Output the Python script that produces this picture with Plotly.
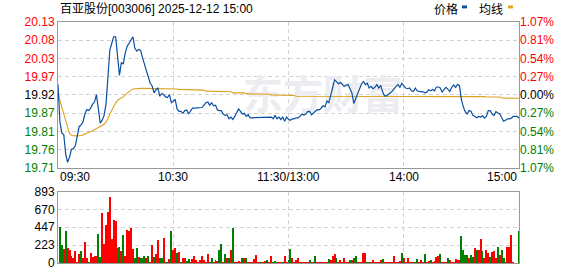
import plotly.graph_objects as go

# ---------------- data ----------------
title_text = "百亚股份[003006] 2025-12-12 15:00"
legend_names = ["价格", "均线"]
pre_close = 19.92
max_pct = 1.07
price_labels = ["19.71", "19.76", "19.81", "19.87", "19.92", "19.97", "20.03", "20.08", "20.13"]
pct_labels = ["1.07%", "0.81%", "0.54%", "0.27%", "0.00%", "0.27%", "0.54%", "0.81%", "1.07%"]
vol_ticks = [0, 223, 447, 670, 893]
time_labels = ["09:30", "10:30", "11:30/13:00", "14:00", "15:00"]
time_label_minutes = [0, 60, 120, 180, 240]
watermark = "东方财富"

price = [
    19.951, 19.841, 19.808, 19.804, 19.747, 19.723, 19.738, 19.761, 19.763, 19.771,
    19.799, 19.827, 19.832, 19.841, 19.864, 19.877, 19.874, 19.881, 19.893, 19.899,
    19.921, 19.879, 19.837, 19.846, 19.860, 19.893, 19.968, 20.052, 20.071, 20.090,
    20.090, 20.029, 19.977, 20.015, 20.010, 20.043, 20.062, 20.071, 20.081, 20.090,
    20.057, 20.048, 20.053, 20.050, 20.029, 20.006, 19.991, 19.973, 19.954, 19.946,
    19.926, 19.935, 19.940, 19.916, 19.924, 19.921, 19.914, 19.912, 19.921, 19.897,
    19.902, 19.907, 19.879, 19.872, 19.872, 19.866, 19.874, 19.876, 19.864, 19.871,
    19.881, 19.881, 19.881, 19.881, 19.881, 19.883, 19.890, 19.897, 19.899, 19.890,
    19.897, 19.888, 19.890, 19.876, 19.874, 19.874, 19.864, 19.860, 19.862, 19.850,
    19.855, 19.848, 19.857, 19.869, 19.879, 19.872, 19.864, 19.866, 19.857, 19.862,
    19.853, 19.853, 19.853, 19.853, 19.853, 19.853, 19.853, 19.853, 19.853, 19.853,
    19.855, 19.855, 19.850, 19.860, 19.850, 19.855, 19.848, 19.855, 19.843, 19.855,
    19.849, 19.846, 19.850, 19.850, 19.853, 19.853, 19.857, 19.864, 19.861, 19.864,
    19.871, 19.872, 19.862, 19.866, 19.872, 19.877, 19.876, 19.881, 19.888, 19.885,
    19.902, 19.897, 19.919, 19.945, 19.964, 19.959, 19.952, 19.957, 19.952, 19.945,
    19.948, 19.950, 19.938, 19.926, 19.895, 19.910, 19.923, 19.935, 19.952, 19.959,
    19.950, 19.954, 19.940, 19.945, 19.938, 19.942, 19.950, 19.940, 19.948, 19.929,
    19.917, 19.917, 19.923, 19.926, 19.931, 19.940, 19.945, 19.950, 19.942, 19.954,
    19.945, 19.940, 19.938, 19.940, 19.932, 19.930, 19.940, 19.932, 19.930, 19.930,
    19.929, 19.926, 19.928, 19.935, 19.932, 19.936, 19.932, 19.943, 19.943, 19.940,
    19.928, 19.936, 19.942, 19.936, 19.930, 19.942, 19.949, 19.942, 19.951, 19.947,
    19.907, 19.885, 19.871, 19.864, 19.874, 19.872, 19.860, 19.857, 19.853, 19.857,
    19.855, 19.859, 19.852, 19.857, 19.874, 19.874, 19.864, 19.860, 19.871, 19.867,
    19.864, 19.853, 19.843, 19.846, 19.850, 19.850, 19.852, 19.857, 19.857, 19.857,
    19.852,
]

avg_price = [
    19.922, 19.902, 19.883, 19.862, 19.840, 19.820, 19.807, 19.802, 19.800, 19.800,
    19.800, 19.800, 19.801, 19.803, 19.806, 19.808, 19.810, 19.813, 19.815, 19.818,
    19.822, 19.826, 19.828, 19.830, 19.834, 19.841, 19.850, 19.864, 19.877, 19.886,
    19.896, 19.904, 19.908, 19.911, 19.914, 19.920, 19.925, 19.930, 19.934, 19.937,
    19.938, 19.939, 19.939, 19.939, 19.939, 19.939, 19.939, 19.939, 19.939, 19.939,
    19.939, 19.939, 19.939, 19.938, 19.938, 19.938, 19.938, 19.938, 19.938, 19.937,
    19.937, 19.937, 19.937, 19.936, 19.936, 19.936, 19.936, 19.936, 19.936, 19.934,
    19.934, 19.934, 19.934, 19.934, 19.934, 19.934, 19.934, 19.931, 19.931, 19.931,
    19.931, 19.931, 19.931, 19.931, 19.931, 19.929, 19.929, 19.929, 19.929, 19.929,
    19.929, 19.926, 19.926, 19.926, 19.926, 19.926, 19.926, 19.926, 19.923, 19.923,
    19.923, 19.923, 19.923, 19.923, 19.923, 19.922, 19.922, 19.922, 19.922, 19.922,
    19.922, 19.920, 19.920, 19.920, 19.920, 19.920, 19.920, 19.918, 19.918, 19.918,
    19.918, 19.918, 19.918, 19.918, 19.916, 19.916, 19.916, 19.916, 19.916, 19.916,
    19.916, 19.916, 19.916, 19.916, 19.916, 19.916, 19.916, 19.916, 19.916, 19.916,
    19.916, 19.916, 19.916, 19.916, 19.916, 19.916, 19.916, 19.916, 19.916, 19.916,
    19.916, 19.916, 19.916, 19.916, 19.916, 19.916, 19.916, 19.916, 19.916, 19.916,
    19.916, 19.916, 19.916, 19.916, 19.916, 19.916, 19.916, 19.916, 19.916, 19.916,
    19.916, 19.916, 19.916, 19.916, 19.916, 19.916, 19.916, 19.916, 19.916, 19.916,
    19.916, 19.916, 19.916, 19.916, 19.916, 19.916, 19.916, 19.916, 19.916, 19.916,
    19.916, 19.916, 19.916, 19.916, 19.916, 19.916, 19.916, 19.916, 19.916, 19.916,
    19.916, 19.917, 19.917, 19.917, 19.917, 19.917, 19.917, 19.917, 19.917, 19.917,
    19.917, 19.917, 19.917, 19.917, 19.917, 19.915, 19.915, 19.915, 19.915, 19.915,
    19.915, 19.915, 19.915, 19.914, 19.914, 19.914, 19.914, 19.914, 19.914, 19.914,
    19.914, 19.911, 19.911, 19.911, 19.911, 19.911, 19.911, 19.911, 19.911, 19.911,
    19.910,
]

volume = [
    0, 461, 234, 186, 400, 198, 174, 97, 73, 150,
    12, 113, 150, 65, 271, 65, 16, 125, 77, 97,
    97, 368, 77, 634, 246, 485, 646, 828, 303, 549,
    529, 194, 210, 154, 356, 97, 416, 404, 440, 186,
    65, 198, 81, 73, 65, 97, 65, 97, 12, 230,
    81, 113, 295, 65, 65, 319, 24, 24, 53, 400,
    162, 194, 125, 137, 24, 65, 73, 32, 61, 24,
    57, 97, 44, 24, 44, 97, 40, 24, 121, 16,
    65, 24, 48, 32, 162, 246, 24, 113, 65, 65,
    174, 448, 16, 16, 32, 12, 73, 65, 65, 24,
    16, 12, 53, 105, 24, 16, 24, 16, 32, 48,
    16, 97, 16, 32, 16, 16, 16, 24, 97, 24,
    44, 186, 65, 24, 44, 65, 24, 16, 16, 16,
    16, 40, 16, 16, 89, 16, 16, 16, 16, 16,
    16, 53, 40, 97, 113, 73, 16, 40, 16, 73,
    24, 24, 40, 40, 65, 89, 16, 16, 24, 125,
    125, 16, 16, 16, 40, 24, 16, 16, 40, 53,
    16, 16, 16, 16, 16, 89, 16, 16, 32, 125,
    65, 16, 65, 16, 16, 16, 24, 53, 16, 40,
    16, 113, 16, 32, 40, 16, 32, 77, 89, 113,
    16, 16, 24, 73, 48, 24, 16, 53, 40, 40,
    343, 174, 101, 101, 65, 101, 77, 198, 174, 174,
    307, 150, 65, 162, 125, 77, 137, 150, 65, 210,
    101, 162, 65, 16, 210, 210, 356, 16, 0, 0,
    404,
]

# 'r' = up minute (red bar), 'g' = down minute (green bar)
volume_dir = (
    "rggrgrrrrr" "rrgrrrgrrr" "rggrrrrrrr" "rggrgrrrrr"
    "ggrgggrgrr" "grrggrggrg" "rrgrgrrggr" "rrrrrrrrrg"
    "grgrggrgrg" "rgrrrrgrgr" "rrrrrgrrrg" "rrgggrrgrr"
    "ggrrrrrrrr" "rgrrgrrrrr" "rgrrrgrrrr" "rrgrggrrrr"
    "rggrrrrrrg" "rrrrrrrrrg" "rrrrrrggrr" "rgrrgrrrrg"
    "rrrgrrrrgr" "ggggrggrgr" "rgrrrgrrrg" "rggrrrrrrr"
    "g"
)

assert len(price) == 241 and len(avg_price) == 241
assert len(volume) == 241 and len(volume_dir) == 241

minutes = list(range(len(price)))

# ---------------- style ----------------
W, H = 578, 276
ML, MR, MT, MB = 58, 59, 22, 6
PLOT_H = H - MT - MB
FONT = "Liberation Sans, Arial, Noto Sans CJK SC, sans-serif"
RED, GREEN, BLACK = "#ff0000", "#008000", "#000000"
BLUE_LINE, ORANGE_LINE = "#0b4fa1", "#dca21e"
GRID = "#d2d2d2"
BORDER = "#999999"
WATERMARK_POS = (138, pre_close - 0.012)


def py(pixel_y):
    return (H - MB - pixel_y) / PLOT_H


def px(pixel_x):
    return (pixel_x - ML) / (W - ML - MR)


lo = pre_close * (1 - max_pct / 100)
hi = pre_close * (1 + max_pct / 100)
price_tickvals = [pre_close * (1 + k * max_pct / 400) for k in range(-4, 5)]


def colored(text, k):
    c = RED if k > 0 else (GREEN if k < 0 else BLACK)
    return f'<span style="color:{c}">{text}</span>'


price_ticktext = [colored(t, k) for t, k in zip(price_labels, range(-4, 5))]
pct_ticktext = [colored(t, k) for t, k in zip(pct_labels, range(-4, 5))]

fig = go.Figure()

# watermark (behind lines)
fig.add_trace(go.Scatter(
    x=[WATERMARK_POS[0]], y=[WATERMARK_POS[1]], mode="text", text=[watermark],
    textfont=dict(size=40, color="#ececf1", family="Noto Sans CJK SC", weight="bold"),
    hoverinfo="skip", showlegend=False, xaxis="x", yaxis="y",
))

fig.add_trace(go.Scatter(
    x=minutes, y=avg_price, mode="lines", line=dict(color=ORANGE_LINE, width=1.1),
    hoverinfo="skip", showlegend=False, xaxis="x", yaxis="y",
))
fig.add_trace(go.Scatter(
    x=minutes, y=price, mode="lines", line=dict(color=BLUE_LINE, width=1.2),
    hoverinfo="skip", showlegend=False, xaxis="x", yaxis="y",
))
# invisible trace so that the right-hand % axis is drawn
fig.add_trace(go.Scatter(
    x=minutes, y=price, mode="lines", line=dict(color="rgba(0,0,0,0)", width=0),
    hoverinfo="skip", showlegend=False, xaxis="x", yaxis="y2",
))

fig.add_trace(go.Bar(
    x=minutes, y=volume, width=0.5,
    marker=dict(color=[RED if d == "r" else GREEN for d in volume_dir], line=dict(width=0)),
    hoverinfo="skip", showlegend=False, xaxis="x2", yaxis="y3",
))

grid_common = dict(
    showgrid=True, gridcolor=GRID, griddash="4px,3px", gridwidth=1,
    showline=True, linecolor=BORDER, linewidth=1, mirror=True,
    zeroline=False, ticks="",
)

price_dom = [py(172), 1]
vol_dom = [0, py(196.5)]

fig.update_layout(
    width=W, height=H, margin=dict(l=ML, r=MR, t=MT, b=MB),
    paper_bgcolor="white", plot_bgcolor="white",
    font=dict(family=FONT, size=12, color=BLACK),
    showlegend=False, bargap=0,
    xaxis=dict(domain=[0, 1], range=[0, 240], anchor="y",
               tickvals=[60, 120, 180], showticklabels=False, **grid_common),
    yaxis=dict(domain=price_dom, range=[lo, hi], anchor="x",
               tickvals=price_tickvals, ticktext=price_ticktext,
               tickfont=dict(size=12), **grid_common),
    yaxis2=dict(overlaying="y", side="right", range=[lo, hi], anchor="x",
                tickvals=price_tickvals, ticktext=pct_ticktext,
                tickfont=dict(size=12), showgrid=False, zeroline=False,
                showline=False, ticks=""),
    xaxis2=dict(domain=[0, 1], range=[0, 240], anchor="y3",
                tickvals=[60, 120, 180], showticklabels=False, **grid_common),
    yaxis3=dict(domain=vol_dom, range=[0, vol_ticks[-1]], anchor="x2",
                tickvals=vol_ticks, ticktext=[str(v) for v in vol_ticks],
                tickfont=dict(size=12), **grid_common),
)

annotations = [
    dict(text=title_text, xref="paper", yref="paper", x=0, y=py(9),
         xanchor="left", yanchor="middle", showarrow=False,
         font=dict(size=12, color=BLACK)),
    dict(text=legend_names[0], xref="paper", yref="paper", x=px(432), y=py(9.5),
         xanchor="left", yanchor="middle", showarrow=False, font=dict(size=12)),
    dict(text=legend_names[1], xref="paper", yref="paper", x=px(477), y=py(9.5),
         xanchor="left", yanchor="middle", showarrow=False, font=dict(size=12)),
]
anchors = ["left", "center", "center", "center", "right"]
for lab, m, a in zip(time_labels, time_label_minutes, anchors):
    annotations.append(dict(text=lab, xref="x", yref="paper", x=m, y=py(181.5),
                            xanchor=a, yanchor="middle", showarrow=False,
                            font=dict(size=12, color=BLACK)))
fig.update_layout(annotations=annotations)

fig.update_layout(shapes=[
    dict(type="rect", xref="paper", yref="paper", x0=px(462), x1=px(467),
         y0=py(8), y1=py(5), fillcolor=BLUE_LINE, line=dict(width=0)),
    dict(type="rect", xref="paper", yref="paper", x0=px(508), x1=px(513),
         y0=py(8), y1=py(5), fillcolor=ORANGE_LINE, line=dict(width=0)),
])

fig.write_html("out.html")
